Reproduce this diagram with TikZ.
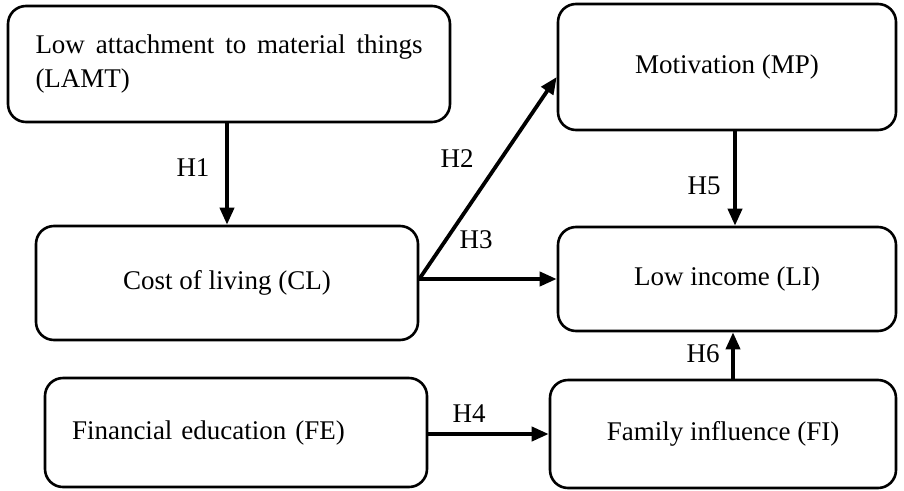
\documentclass[tikz,border=0pt]{standalone}
\usepackage{fontspec}
\setmainfont{Liberation Serif}
\usetikzlibrary{arrows.meta,calc}
\begin{document}
\begin{tikzpicture}[x=1pt,y=-1pt,
 box/.style={draw, line width=2.6pt, rounded corners=18pt, inner sep=0pt, font=\fontsize{27}{34}\selectfont},
 arr/.style={line width=3.8pt, -{Triangle[length=17pt,width=14pt]}},
 lab/.style={font=\fontsize{27}{34}\selectfont, inner sep=0pt}]
\useasboundingbox (0,0) rectangle (904,490);
\node[box, minimum width=442pt, minimum height=116pt, align=left] (LAMT) at (229,64) {\makebox[387pt][s]{Low attachment to material things}\\(LAMT)};
\node[box, minimum width=338pt, minimum height=126pt] (MP) at (727,67) {Motivation (MP)};
\node[box, minimum width=382pt, minimum height=114pt] (CL) at (227,283) {Cost of living (CL)};
\node[box, minimum width=338pt, minimum height=104pt] (LI) at (727,279) {Low income (LI)};
\node[box, text width=328pt, inner xsep=27pt, minimum height=109pt, align=left] (FE) at (236,432.5) {Financial education (FE)};
\node[box, minimum width=346pt, minimum height=108pt] (FI) at (723,434) {Family influence (FI)};
\draw[arr] (LAMT.south -| CL.north) -- (CL.north);
\draw[arr] (CL.east |- LI.west) -- ([yshift=-10pt]MP.west);
\draw[arr] (CL.east |- LI.west) -- (LI.west);
\draw[arr] ([xshift=8pt]MP.south) -- ([xshift=8pt]LI.north);
\draw[arr] ([xshift=10pt]FI.north) -- ([xshift=10pt]FI.north |- LI.south);
\draw[arr] (FE.east |- FI.west) -- (FI.west);
\node[lab] (h1) at (193,168) {H1};
\node[lab] (h2) at (457,159) {H2};
\node[lab] (h3) at (476,240) {H3};
\node[lab] (h4) at (469,414) {H4};
\node[lab] (h5) at (704,186) {H5};
\node[lab] (h6) at (703,354) {H6};
\end{tikzpicture}
\end{document}
